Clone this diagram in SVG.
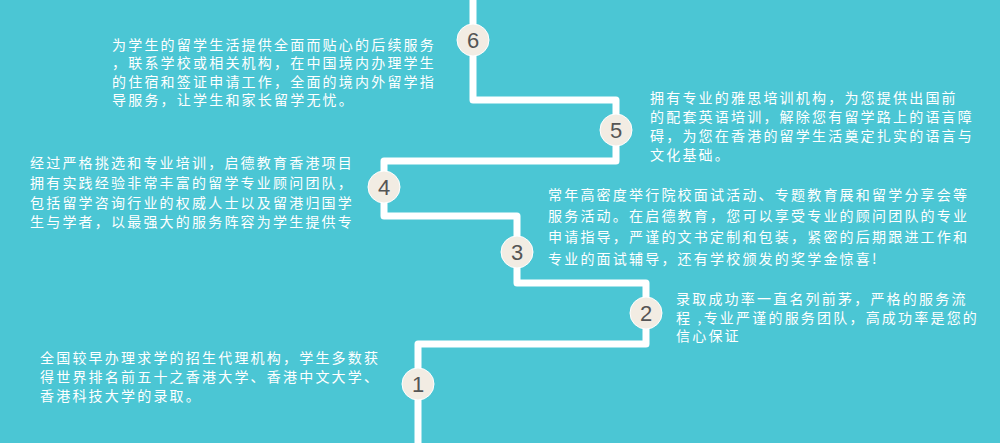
<svg xmlns="http://www.w3.org/2000/svg" width="1000" height="443" viewBox="0 0 1000 443">
<style>
.t{font-family:"Noto Sans CJK SC","Liberation Sans",sans-serif;font-size:14px;fill:#fff;letter-spacing:2.2px}
.c{fill:#f2ece3;stroke:#fff;stroke-width:1}
.n{font-family:"Liberation Sans",sans-serif;font-size:22px;fill:#555;text-anchor:middle}
</style>
<rect width="1000" height="443" fill="#4bc6d4"/>
<g id="connectors"><path d="M418 443 V344 H646 V283 H517 V216 H384 V161 H616 V100 H473 V0" fill="none" stroke="#fff" stroke-width="7" stroke-linejoin="round"/></g>
<g id="n6"><circle class="c" cx="473" cy="40" r="16"/><text class="n" x="473" y="48">6</text>
<text class="t" x="112" y="50">为学生的留学生活提供全面而贴心的后续服务</text><text class="t" x="112" y="68">，联系学校或相关机构，在中国境内办理学生</text><text class="t" x="112" y="87">的住宿和签证申请工作，全面的境内外留学指</text><text class="t" x="112" y="105">导服务，让学生和家长留学无忧。</text></g>
<g id="n5"><circle class="c" cx="616" cy="130" r="16"/><text class="n" x="616" y="138">5</text>
<text class="t" x="650" y="103">拥有专业的雅思培训机构，为您提供出国前</text><text class="t" x="650" y="122">的配套英语培训，解除您有留学路上的语言障</text><text class="t" x="650" y="141">碍，为您在香港的留学生活奠定扎实的语言与</text><text class="t" x="650" y="160">文化基础。</text></g>
<g id="n4"><circle class="c" cx="384" cy="187" r="16"/><text class="n" x="384" y="195">4</text>
<text class="t" x="30" y="168">经过严格挑选和专业培训，启德教育香港项目</text><text class="t" x="30" y="188">拥有实践经验非常丰富的留学专业顾问团队，</text><text class="t" x="30" y="208">包括留学咨询行业的权威人士以及留港归国学</text><text class="t" x="30" y="227">生与学者，以最强大的服务阵容为学生提供专</text></g>
<g id="n3"><circle class="c" cx="517" cy="252" r="16"/><text class="n" x="517" y="260">3</text>
<text class="t" x="548" y="200">常年高密度举行院校面试活动、专题教育展和留学分享会等</text><text class="t" x="548" y="221">服务活动。在启德教育，您可以享受专业的顾问团队的专业</text><text class="t" x="548" y="242">申请指导，严谨的文书定制和包装，紧密的后期跟进工作和</text><text class="t" x="548" y="264">专业的面试辅导，还有学校颁发的奖学金惊喜!</text></g>
<g id="n2"><circle class="c" cx="646" cy="313" r="16"/><text class="n" x="646" y="321">2</text>
<text class="t" x="676" y="304">录取成功率一直名列前茅，严格的服务流</text><text class="t" x="676" y="323">程 ,专业严谨的服务团队，高成功率是您的</text><text class="t" x="676" y="341">信心保证</text></g>
<g id="n1"><circle class="c" cx="418" cy="384" r="16"/><text class="n" x="418" y="392">1</text>
<text class="t" x="40" y="363">全国较早办理求学的招生代理机构，学生多数获</text><text class="t" x="40" y="382">得世界排名前五十之香港大学、香港中文大学、</text><text class="t" x="40" y="401">香港科技大学的录取。</text></g>
</svg>
